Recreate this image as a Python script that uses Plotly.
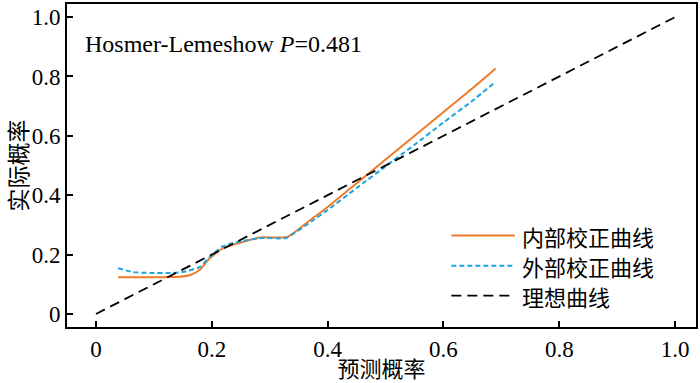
import plotly.graph_objects as go

# ---- data ----
internal_x = [0.038, 0.08, 0.12, 0.144, 0.165, 0.18, 0.196, 0.218, 0.248, 0.287, 0.33,
              0.368, 0.40, 0.45, 0.50, 0.55, 0.60, 0.65, 0.69]
internal_y = [0.124, 0.124, 0.124, 0.125, 0.133, 0.150, 0.187, 0.220, 0.240, 0.258, 0.259,
              0.313, 0.360, 0.440, 0.520, 0.600, 0.680, 0.760, 0.827]

external_x = [0.038, 0.064, 0.093, 0.132, 0.15, 0.179, 0.196, 0.218, 0.248, 0.287, 0.328,
              0.373, 0.40, 0.45, 0.50, 0.55, 0.60, 0.65, 0.69]
external_y = [0.154, 0.141, 0.138, 0.138, 0.141, 0.158, 0.191, 0.227, 0.244, 0.256, 0.256,
              0.313, 0.350, 0.424, 0.497, 0.570, 0.645, 0.718, 0.782]

ideal_x = [0.0, 1.0]
ideal_y = [0.0, 1.0]

tick_vals = [0, 0.2, 0.4, 0.6, 0.8, 1.0]
tick_text = ["0", "0.2", "0.4", "0.6", "0.8", "1.0"]

names = ["内部校正曲线", "外部校正曲线", "理想曲线"]
colors = ["#F07A28", "#1AA3E0", "#000000"]
dashes = ["solid", "5px,3px", "10px,6px"]
widths = [2, 2, 1.8]

SERIF = "Liberation Serif, Times New Roman, Noto Sans CJK SC, serif"
CJK = "Noto Sans CJK SC, Liberation Serif, serif"

fig = go.Figure()
for xs, ys, nm, c, d, w in zip([internal_x, external_x, ideal_x],
                               [internal_y, external_y, ideal_y],
                               names, colors, dashes, widths):
    fig.add_trace(go.Scatter(x=xs, y=ys, mode="lines", name=nm, showlegend=False,
                             hoverinfo="skip",
                             line=dict(color=c, dash=d, width=w,
                                       shape="spline" if len(xs) > 2 else "linear",
                                       smoothing=0.5)))

# custom legend (long line samples like the reference)
leg_y = [0.283, 0.190, 0.097]  # paper coordinates
for nm, c, d, w, yy in zip(names, colors, dashes, widths, leg_y):
    fig.add_shape(type="line", xref="paper", yref="paper",
                  x0=0.611, x1=0.712, y0=yy, y1=yy,
                  line=dict(color=c, dash=d, width=w))
    fig.add_annotation(xref="paper", yref="paper", x=0.720, y=yy, text=nm,
                       showarrow=False, xanchor="left", yanchor="middle",
                       font=dict(family=CJK, size=22, color="#000"))

fig.add_annotation(xref="paper", yref="paper", x=0.025, y=0.875,
                   text="Hosmer-Lemeshow <i>P</i>=0.481", showarrow=False,
                   xanchor="left", yanchor="middle",
                   font=dict(family=SERIF, size=24, color="#000"))

axis_common = dict(showline=True, linewidth=2, linecolor="#000", mirror=True,
                   ticks="inside", ticklen=6, tickwidth=2, tickcolor="#000",
                   showgrid=False, zeroline=False,
                   tickvals=tick_vals, ticktext=tick_text,
                   tickfont=dict(family=SERIF, size=23, color="#000"))

fig.update_layout(
    width=700, height=383,
    margin=dict(l=67, r=2, t=2, b=56),
    paper_bgcolor="white", plot_bgcolor="white",
    xaxis=dict(range=[-0.05, 1.036], **axis_common,
               title=dict(text="预测概率", standoff=0,
                          font=dict(family=CJK, size=22, color="#000"))),
    yaxis=dict(range=[-0.044, 1.044], **axis_common,
               title=dict(text="实际概率", standoff=9,
                          font=dict(family=CJK, size=23, color="#000"))),
)

fig.write_html("out.html", config={"displayModeBar": False},
               post_script="document.body.style.margin='0';document.body.style.padding='0';")
